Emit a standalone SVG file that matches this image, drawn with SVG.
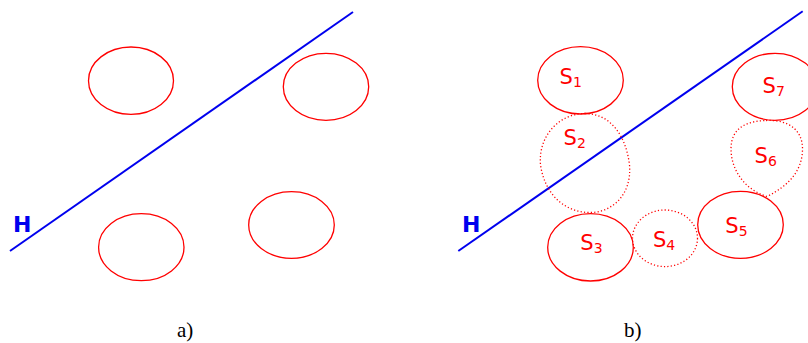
<svg xmlns="http://www.w3.org/2000/svg" width="808" height="343" viewBox="0 0 808 343">
<style>
.set{fill:none;stroke:#f00;stroke-width:1.3}
.dot{fill:none;stroke:#f00;stroke-width:1.3;stroke-dasharray:1.2 2.2}
.hyp{stroke:#0000ee;stroke-width:2;fill:none}
.hl{font-family:"DejaVu Sans",sans-serif;font-weight:bold;font-size:22px;fill:#0000ee}
.sl{font-family:"DejaVu Sans",sans-serif;font-size:21px;fill:#f00}
.sub{font-size:14px}
.cap{font-family:"Liberation Serif",serif;font-size:21px;fill:#000}
</style>
<g id="panel-a">
<g id="connectors-a"><line class="hyp" x1="10" y1="251" x2="353" y2="12"/></g>
<g id="Ha"><text class="hl" x="13" y="232">H</text></g>
<g id="a1"><ellipse class="set" cx="131" cy="80.7" rx="42.5" ry="33.7"/></g>
<g id="a2"><ellipse class="set" cx="326" cy="86.8" rx="42.7" ry="33.5"/></g>
<g id="a3"><ellipse class="set" cx="141.3" cy="247.2" rx="42.7" ry="33.5"/></g>
<g id="a4"><ellipse class="set" cx="291.5" cy="225" rx="42.8" ry="33.3"/></g>
<text class="cap" x="177" y="337">a)</text>
</g>
<g id="panel-b">
<g id="connectors-b"><line class="hyp" x1="458.3" y1="251" x2="802.7" y2="11.3"/></g>
<g id="Hb"><text class="hl" x="462" y="232">H</text></g>
<g id="S1"><ellipse class="set" cx="580.5" cy="80.3" rx="42.8" ry="33.7"/><text class="sl" x="559.6" y="84">S<tspan class="sub" dy="3">1</tspan></text></g>
<g id="S2"><path class="dot" d="M585 113.5C610 113.5 626 135 629.5 165C632 195 612 212.5 590 212.5C565 212.5 545 195 540.5 165C538 135 560 113.5 585 113.5Z"/><text class="sl" x="563.6" y="145">S<tspan class="sub" dy="3">2</tspan></text></g>
<g id="S3"><ellipse class="set" cx="590.5" cy="247.3" rx="42.8" ry="33.7"/><text class="sl" x="580.3" y="250">S<tspan class="sub" dy="3">3</tspan></text></g>
<g id="S4"><ellipse class="dot" cx="665" cy="238.3" rx="32.5" ry="28.3"/><text class="sl" x="652.9" y="246.7">S<tspan class="sub" dy="3">4</tspan></text></g>
<g id="S5"><ellipse class="set" cx="740.5" cy="224.8" rx="42.8" ry="33.5"/><text class="sl" x="725.3" y="232.7">S<tspan class="sub" dy="3">5</tspan></text></g>
<g id="S6"><path class="dot" d="M766 120.5C790 119.5 803 131 802.5 150C802 170 790 185 767 196.5C745 190 731 170 731 149C731 129 745 121 766 120.5Z"/><text class="sl" x="754.6" y="163.3">S<tspan class="sub" dy="3">6</tspan></text></g>
<g id="S7"><ellipse class="set" cx="775" cy="86.8" rx="42.7" ry="33.5"/><text class="sl" x="762.6" y="93.3">S<tspan class="sub" dy="3">7</tspan></text></g>
<text class="cap" x="624" y="337">b)</text>
</g>
</svg>
